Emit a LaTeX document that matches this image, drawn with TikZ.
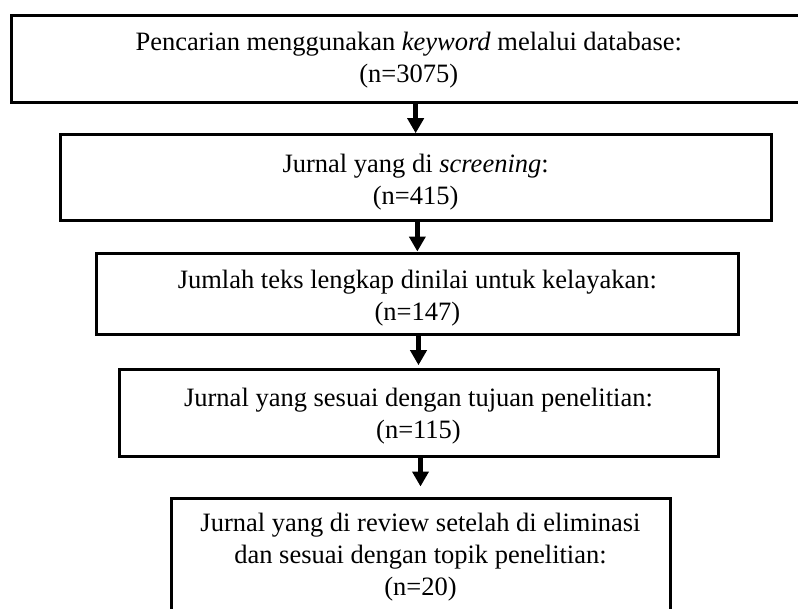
\documentclass[tikz,border=0pt]{standalone}
\usepackage{fontspec}
\setmainfont{Liberation Serif}
\usetikzlibrary{arrows.meta}
\tikzset{
  flowbox/.style={draw=black, line width=3pt, fill=white, rectangle, inner sep=0pt},
  flowtext/.style={inner sep=0pt, align=center, font=\fontsize{26.5}{32}\selectfont},
  flowarrow/.style={line width=5pt, -{Triangle[width=16pt,length=15pt]}}
}
\begin{document}
\begin{tikzpicture}[x=1pt,y=-1pt]
\useasboundingbox (0,0) rectangle (798,608);
\clip (0,0) rectangle (798,608);
\fill[white] (0,0) rectangle (798,608);
\node[flowbox, minimum width=794.3pt, minimum height=86.8pt] (b1) at (408.8,58.9) {};
\node[flowbox, minimum width=710.7pt, minimum height=85.8pt] (b2) at (415.65,177.6) {};
\node[flowbox, minimum width=642.7pt, minimum height=81.7pt] (b3) at (417.35,293.85) {};
\node[flowbox, minimum width=599pt, minimum height=87pt] (b4) at (418.5,413.2) {};
\node[flowbox, minimum width=499pt, minimum height=117pt] (b5) at (420.5,556.5) {};
\node[flowtext] (t1) at ([yshift=-1.5pt]b1.center)
  {Pencarian menggunakan \textit{keyword} melalui database:\\(n=3075)};
\node[flowtext] (t2) at ([yshift=-5pt]b2.center)
  {Jurnal yang di \textit{screening}:\\(n=415)};
\node[flowtext] (t3) at ([yshift=-4pt]b3.center)
  {Jumlah teks lengkap dinilai untuk kelayakan:\\(n=147)};
\node[flowtext] (t4) at ([yshift=-3pt]b4.center)
  {Jurnal yang sesuai dengan tujuan penelitian:\\(n=115)};
\node[flowtext] (t5) at ([yshift=-1pt]b5.center)
  {Jurnal yang di review setelah di eliminasi\\dan sesuai dengan topik penelitian:\\(n=20)};
\draw[flowarrow] (b1.south -| b2.north) -- (b2.north);
\draw[flowarrow] (b2.south -| b3.north) -- (b3.north);
\draw[flowarrow, shorten >=3pt] (b3.south -| b4.north) -- (b4.north);
\draw[flowarrow, shorten >=10pt] (b4.south -| b5.north) -- (b5.north);
\end{tikzpicture}
\end{document}
